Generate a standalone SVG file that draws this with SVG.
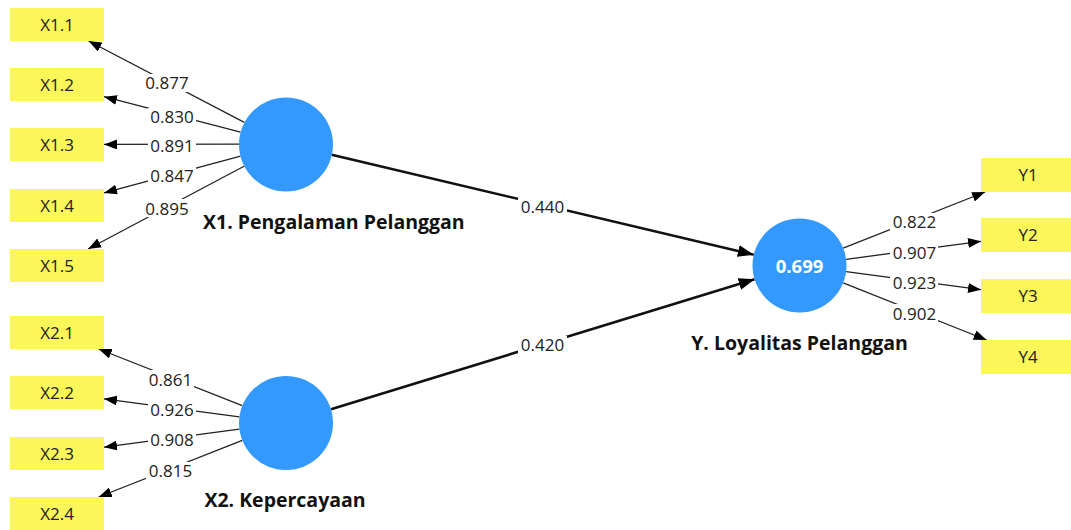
<svg xmlns="http://www.w3.org/2000/svg" width="1071" height="530" viewBox="0 0 1071 530">
<defs>
<marker id="ah" markerUnits="userSpaceOnUse" markerWidth="13" markerHeight="10" refX="13" refY="5" orient="auto"><path d="M0,0 L13,5 L0,10 z" fill="#000"/></marker>
<marker id="ahb" markerUnits="userSpaceOnUse" markerWidth="16" markerHeight="12" refX="16" refY="6" orient="auto"><path d="M0,0 L16,6 L0,12 z" fill="#000"/></marker>
<style>
.ind{fill:#fbf65a}
.it{font-family:"Open Sans","Noto Sans",sans-serif;font-size:17px;fill:#222;text-anchor:middle}
.lv{fill:#3399ff}
.lt{font-family:"Open Sans","Noto Sans",sans-serif;font-size:19.5px;font-weight:bold;fill:#111}
.ld{stroke:#222;stroke-width:1.3;fill:none;marker-end:url(#ah)}
.pa{stroke:#111;stroke-width:2.6;fill:none;marker-end:url(#ahb)}
.lb{fill:#fff}
.lbt{font-family:"Open Sans","Noto Sans",sans-serif;font-size:17px;fill:#222;text-anchor:middle}
</style>
</defs>
<rect width="1071" height="530" fill="#fff"/>
<g id="connectors">
<line class="ld" x1="244.3" y1="122.3" x2="88.6" y2="41"/>
<line class="ld" x1="240.5" y1="132.2" x2="104" y2="96.7"/>
<line class="ld" x1="239" y1="144.2" x2="104" y2="144.4"/>
<line class="ld" x1="240.6" y1="156.2" x2="104" y2="192.9"/>
<line class="ld" x1="244.5" y1="166" x2="88.1" y2="249"/>
<line class="ld" x1="242.3" y1="405.7" x2="98.7" y2="349"/>
<line class="ld" x1="239.4" y1="416.8" x2="104" y2="398.8"/>
<line class="ld" x1="239.4" y1="429.2" x2="104" y2="447.2"/>
<line class="ld" x1="242.3" y1="440.3" x2="98.7" y2="497"/>
<line class="ld" x1="843.2" y1="248.2" x2="985.1" y2="192"/>
<line class="ld" x1="846.1" y1="259.3" x2="981" y2="241.3"/>
<line class="ld" x1="846.1" y1="271.7" x2="981" y2="289.7"/>
<line class="ld" x1="843.2" y1="282.9" x2="986.6" y2="340"/>
<line class="pa" x1="331.7" y1="154.8" x2="753.8" y2="254.7"/>
<line class="pa" x1="331" y1="409.2" x2="754.6" y2="279.3"/>
<g id="labels">
<rect class="lb" x="143" y="74" width="48" height="18"/><text class="lbt" x="167" y="89">0.877</text>
<rect class="lb" x="148" y="108" width="48" height="18"/><text class="lbt" x="172" y="123">0.830</text>
<rect class="lb" x="148" y="137" width="48" height="18"/><text class="lbt" x="172" y="152">0.891</text>
<rect class="lb" x="148" y="167" width="48" height="18"/><text class="lbt" x="172" y="182">0.847</text>
<rect class="lb" x="143" y="199" width="48" height="18"/><text class="lbt" x="167" y="214.5">0.895</text>
<rect class="lb" x="146" y="370" width="48" height="18"/><text class="lbt" x="170.5" y="385.5">0.861</text>
<rect class="lb" x="148" y="401" width="48" height="18"/><text class="lbt" x="172" y="416">0.926</text>
<rect class="lb" x="148" y="431" width="48" height="18"/><text class="lbt" x="172" y="446">0.908</text>
<rect class="lb" x="146" y="462" width="48" height="18"/><text class="lbt" x="170.5" y="477">0.815</text>
<rect class="lb" x="890" y="213" width="48" height="18"/><text class="lbt" x="914.5" y="228">0.822</text>
<rect class="lb" x="890" y="244" width="48" height="18"/><text class="lbt" x="914.5" y="259">0.907</text>
<rect class="lb" x="890" y="273" width="48" height="18"/><text class="lbt" x="914.5" y="288.5">0.923</text>
<rect class="lb" x="890" y="304" width="48" height="18"/><text class="lbt" x="914.5" y="319.5">0.902</text>
<rect class="lb" x="518" y="198" width="49" height="18"/><text class="lbt" x="542.5" y="213">0.440</text>
<rect class="lb" x="518" y="336" width="49" height="18"/><text class="lbt" x="542.5" y="351">0.420</text>
</g>
</g>
<g id="X1.1"><rect class="ind" x="10" y="8" width="94" height="33"/><text class="it" x="57" y="30.5">X1.1</text></g>
<g id="X1.2"><rect class="ind" x="10" y="68" width="94" height="33"/><text class="it" x="57" y="90.5">X1.2</text></g>
<g id="X1.3"><rect class="ind" x="10" y="128" width="94" height="33"/><text class="it" x="57" y="150.5">X1.3</text></g>
<g id="X1.4"><rect class="ind" x="10" y="189" width="94" height="33"/><text class="it" x="57" y="211.5">X1.4</text></g>
<g id="X1.5"><rect class="ind" x="10" y="249" width="94" height="33"/><text class="it" x="57" y="271.5">X1.5</text></g>
<g id="X2.1"><rect class="ind" x="10" y="316" width="94" height="33"/><text class="it" x="57" y="338.5">X2.1</text></g>
<g id="X2.2"><rect class="ind" x="10" y="376" width="94" height="33"/><text class="it" x="57" y="398.5">X2.2</text></g>
<g id="X2.3"><rect class="ind" x="10" y="437" width="94" height="33"/><text class="it" x="57" y="459.5">X2.3</text></g>
<g id="X2.4"><rect class="ind" x="10" y="497" width="94" height="33"/><text class="it" x="57" y="519.5">X2.4</text></g>
<g id="Y1"><rect class="ind" x="981" y="158" width="94" height="34"/><text class="it" x="1028" y="181">Y1</text></g>
<g id="Y2"><rect class="ind" x="981" y="218" width="94" height="34"/><text class="it" x="1028" y="241">Y2</text></g>
<g id="Y3"><rect class="ind" x="981" y="279" width="94" height="34"/><text class="it" x="1028" y="302">Y3</text></g>
<g id="Y4"><rect class="ind" x="981" y="340" width="94" height="34"/><text class="it" x="1028" y="363">Y4</text></g>
<g id="X1"><circle class="lv" cx="286" cy="144.5" r="47"/><text class="lt" x="203" y="229">X1. Pengalaman Pelanggan</text></g>
<g id="X2"><circle class="lv" cx="286" cy="423" r="47"/><text class="lt" x="285" y="507" text-anchor="middle">X2. Kepercayaan</text></g>
<g id="Y"><circle class="lv" cx="799.5" cy="265.5" r="47"/><text class="lt" x="799.5" y="272.5" text-anchor="middle" style="fill:#fff;font-size:18.5px">0.699</text><text class="lt" x="799.5" y="350" text-anchor="middle">Y. Loyalitas Pelanggan</text></g>
</svg>
